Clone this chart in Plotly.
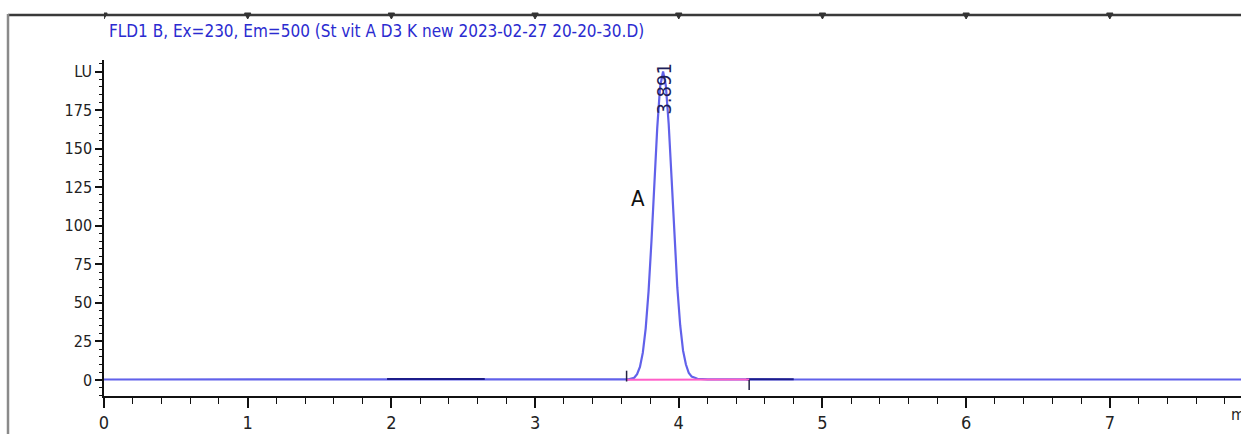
import plotly.graph_objects as go

# ---- data ----
time_min = [0.0, 1.97, 2.65, 3.62, 3.65, 3.69, 3.71, 3.73, 3.75, 3.77, 3.79, 3.81,
            3.83, 3.85, 3.87, 3.891, 3.91, 3.93, 3.95, 3.97, 3.99, 4.01, 4.03,
            4.05, 4.07, 4.09, 4.13, 4.20, 4.47, 4.80, 7.92]
signal_lu = [0.3, 0.3, 0.3, 0.3, 0.4, 1.4, 3.7, 8.5, 17.7, 33.5, 57.6, 89.8,
             127, 163, 190, 200, 191, 166, 131, 93, 60, 35.5, 19,
             10, 4.5, 2.2, 0.8, 0.4, 0.3, 0.3, 0.3]

dark_seg1_x = [1.97, 2.65]
dark_seg1_y = [0.7, 0.7]
dark_seg2_x = [4.47, 4.80]
dark_seg2_y = [0.5, 0.5]

integ_start = 3.637
integ_end = 4.49
integ_baseline_y = [0.1, 0.3]

peak_rt = 3.891
peak_label = "3.891"
peak_name = "A"

x_ticks = [0, 1, 2, 3, 4, 5, 6, 7]
y_tickvals = [0, 25, 50, 75, 100, 125, 150, 175, 200]
y_ticktext = ["0", "25", "50", "75", "100", "125", "150", "175", "LU"]

title_text = "FLD1 B, Ex=230, Em=500 (St vit A D3 K new 2023-02-27 20-20-30.D)"

W, H = 1241, 434
L, R, T, B = 104, 0, 60, 38
FONT = "DejaVu Sans Condensed, Liberation Sans Narrow, Liberation Sans, Arial, sans-serif"

fig = go.Figure()

# main signal trace
fig.add_trace(go.Scatter(x=time_min, y=signal_lu, mode="lines",
                         line=dict(color="#6161ea", width=2.2), hoverinfo="skip"))
# darker baseline segments
fig.add_trace(go.Scatter(x=dark_seg1_x, y=dark_seg1_y, mode="lines",
                         line=dict(color="#1c1c8a", width=2)))
fig.add_trace(go.Scatter(x=dark_seg2_x, y=dark_seg2_y, mode="lines",
                         line=dict(color="#1c1c8a", width=2)))
# integration baseline (pink)
fig.add_trace(go.Scatter(x=[integ_start, integ_end], y=integ_baseline_y, mode="lines",
                         line=dict(color="#ff5fc8", width=2)))
# integration start / end markers
fig.add_trace(go.Scatter(x=[integ_start, integ_start], y=[-1, 6], mode="lines",
                         line=dict(color="#222244", width=1.5)))
fig.add_trace(go.Scatter(x=[integ_end, integ_end], y=[0, -6.5], mode="lines",
                         line=dict(color="#222244", width=1.5)))

# peak labels
fig.add_annotation(x=peak_rt, y=189, xref="x", yref="y", text=peak_label,
                   textangle=-90, showarrow=False,
                   font=dict(family=FONT, size=20, color="#1e1e5a"))
fig.add_annotation(x=3.716, y=118, xref="x", yref="y", text=peak_name,
                   showarrow=False, font=dict(family=FONT, size=22, color="#111111"))

pw = W - L - R
ph = H - T - B
def px_to_paper_x(px):
    return (px - L) / pw
def px_to_paper_y(py):
    return (H - B - py) / ph

# title
fig.add_annotation(x=px_to_paper_x(107), y=px_to_paper_y(31), xref="paper", yref="paper",
                   text=title_text, showarrow=False, xanchor="left", yanchor="middle",
                   font=dict(family=FONT, size=17, color="#2b2bd0"))
# "min" axis title (cut at right edge, as in the original)
fig.add_annotation(x=px_to_paper_x(1229), y=px_to_paper_y(414), xref="paper", yref="paper",
                   text="min", showarrow=False, xanchor="left", yanchor="middle",
                   font=dict(family=FONT, size=16, color="#222222"))

shapes = []
# page frame: top and left
shapes.append(dict(type="line", xref="paper", yref="paper",
                   x0=px_to_paper_x(8), x1=px_to_paper_x(1245),
                   y0=px_to_paper_y(15), y1=px_to_paper_y(15),
                   line=dict(color="#3a3a3a", width=2.5)))
shapes.append(dict(type="line", xref="paper", yref="paper",
                   x0=px_to_paper_x(8), x1=px_to_paper_x(8),
                   y0=px_to_paper_y(14), y1=px_to_paper_y(440),
                   line=dict(color="#8a8a8a", width=2.5)))
# small marks on the top frame at each minute
for t in x_ticks:
    shapes.append(dict(type="path", xref="x", yref="paper",
                       path=f"M {t-0.022},{px_to_paper_y(13)} L {t+0.022},{px_to_paper_y(13)} L {t},{px_to_paper_y(19)} Z",
                       fillcolor="#333333", line=dict(color="#333333", width=1)))
fig.update_layout(shapes=shapes)

fig.update_xaxes(range=[0, 7.913], tickvals=x_ticks, ticks="outside", ticklen=10,
                 tickwidth=1.5, tickcolor="#111111",
                 minor=dict(dtick=0.2, tick0=0, ticks="outside", ticklen=6,
                            tickwidth=1.2, tickcolor="#111111"),
                 showline=True, linecolor="#111111", linewidth=1.5,
                 showgrid=False, zeroline=False, automargin=False,
                 tickfont=dict(family=FONT, size=18, color="#222222"))
fig.update_yaxes(range=[-10.4, 207.5], tickvals=y_tickvals, ticktext=y_ticktext,
                 ticks="outside", ticklen=7, tickwidth=1.5, tickcolor="#111111",
                 minor=dict(dtick=5, tick0=0, ticks="outside", ticklen=3,
                            tickwidth=1.2, tickcolor="#111111"),
                 showline=True, linecolor="#111111", linewidth=1.5,
                 showgrid=False, zeroline=False, automargin=False,
                 tickfont=dict(family=FONT, size=16, color="#222222"))

fig.update_layout(width=W, height=H, margin=dict(l=L, r=R, t=T, b=B, autoexpand=False),
                  plot_bgcolor="white", paper_bgcolor="white", showlegend=False)

fig.write_html("out.html", config={"displayModeBar": False},
               post_script="document.body.style.margin='0';document.body.style.overflow='hidden';")
